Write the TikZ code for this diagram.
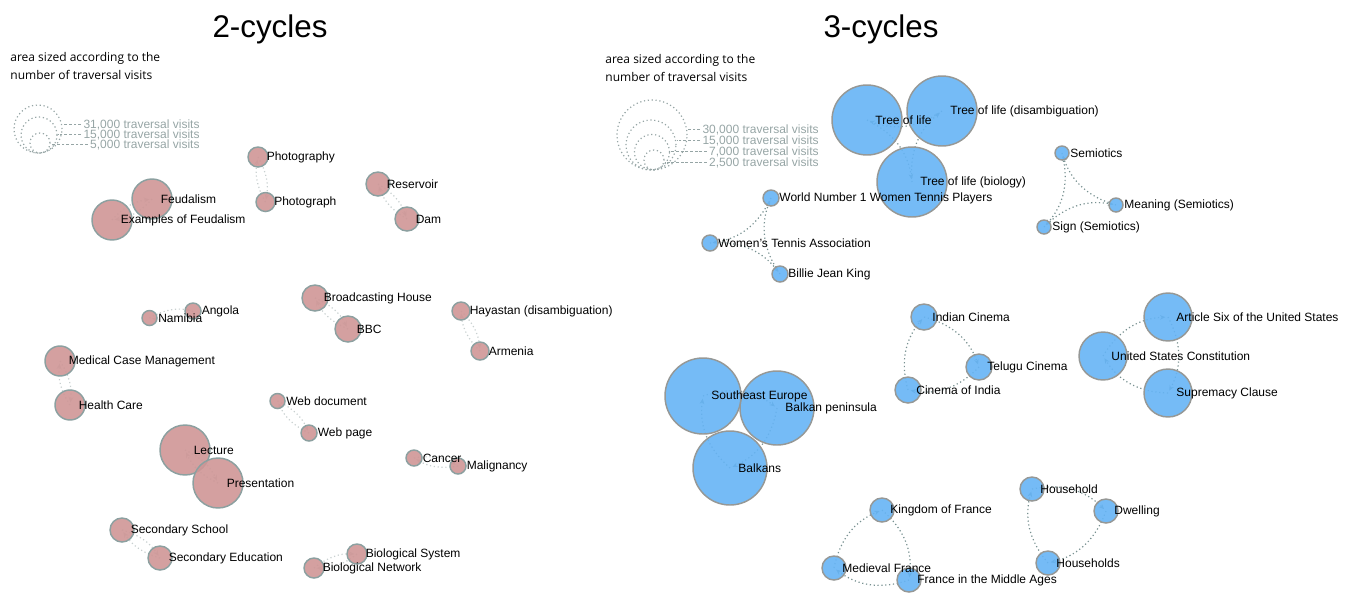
\documentclass[tikz,border=0pt]{standalone}
\usepackage{fontspec}
\setmainfont{Liberation Sans}
\newfontfamily\notefont{Open Sans}
\usepackage{tikz}
\usetikzlibrary{arrows.meta,backgrounds,positioning}
\tikzset{
  >=Stealth,
  every picture/.append style={line width=0.6pt},
  every node/.append style={font=\fontsize{9}{11}\selectfont},
}

\begin{document}
\begin{tikzpicture}[
  x=0.75pt, y=-0.75pt,
  cyc2/.style={circle, draw=pinkrim, fill=pinkfill, fill opacity=0.9, line width=1.1pt, inner sep=0pt, minimum size=#1*1.5pt},
  cyc3/.style={circle, draw=bluerim, fill=bluefill, fill opacity=0.9, line width=1.1pt, inner sep=0pt, minimum size=#1*1.5pt},
  tag/.style={inner sep=0pt, anchor=mid west},
  link2/.style={-{Stealth[length=4pt, width=3.5pt]}, dotted, draw=pinklink, line width=0.9pt, bend left=20, shorten >=2pt},
  link3/.style={-{Stealth[length=4pt, width=3.5pt]}, dotted, draw=bluelink, line width=0.9pt, bend left=28, shorten >=2pt},
  ring/.style={circle, draw=legendgray, dotted, line width=0.9pt, inner sep=0pt, minimum size=#1*1.5pt},
  visits/.style={anchor=mid east, inner sep=1.5pt, text=legendgray},
  tick/.style={draw=legendgray, dash pattern=on 2.2pt off 1.3pt, line width=0.7pt},
  heading/.style={font=\fontsize{23.5}{28}\selectfont, anchor=base, inner sep=0pt},
  note/.style={font=\notefont\fontsize{9}{13.5}\selectfont, align=left, anchor=west, inner sep=0pt}
]
\definecolor{pinkfill}{RGB}{207,150,150}
\definecolor{pinkrim}{RGB}{140,160,160}
\definecolor{pinklink}{RGB}{200,208,208}
\definecolor{bluefill}{RGB}{102,180,245}
\definecolor{bluerim}{RGB}{150,152,150}
\definecolor{bluelink}{RGB}{120,145,145}
\definecolor{legendgray}{RGB}{150,165,165}

\useasboundingbox (0,0) rectangle (1351,593);

% titles and legends
\node[heading] (title2) at (270,37) {2-cycles};
\node[heading] (title3) at (881,37) {3-cycles};

\node[note] (note2) at (10,66) {area sized according to the\\number of traversal visits};
\node[note] (note3) at (605,68) {area sized according to the\\number of traversal visits};

\node[ring=24] (ring31) at (38,129) {};
\node[ring=18] (ring15) at (39,135) {};
\node[ring=10] (ring5) at (40,143) {};
\node[visits] (v31) at (202,124.5) {31,000 traversal visits};
\node[visits] (v15) at (202,134.5) {15,000 traversal visits};
\node[visits] (v5) at (202,144.5) {5,000 traversal visits};
\draw[tick] (v31.west) -- (v31.west -| ring31.east);
\draw[tick] (v15.west) -- (v15.west -| ring15.east);
\draw[tick] (v5.west) -- (v5.west -| ring5.east);

\node[ring=35] (ring30) at (652,135) {};
\node[ring=25] (ring15b) at (651,145) {};
\node[ring=17.5] (ring7) at (652,152) {};
\node[ring=10] (ring25) at (654,160) {};
\node[visits] (v30) at (821,130) {30,000 traversal visits};
\node[visits] (v15b) at (821,141) {15,000 traversal visits};
\node[visits] (v7) at (821,152) {7,000 traversal visits};
\node[visits] (v25) at (821,163) {2,500 traversal visits};
\draw[tick] (v30.west) -- (v30.west -| ring30.east);
\draw[tick] (v15b.west) -- (v15b.west -| ring15b.east);
\draw[tick] (v7.west) -- (v7.west -| ring7.east);
\draw[tick] (v25.west) -- (v25.west -| ring25.east);

% 2-cycles
\node[cyc2=10] (photography) at (258,157) {};
\node[cyc2=9.5] (photograph) at (265.5,202) {};
\node[cyc2=20] (feudalism) at (152,199) {};
\node[cyc2=20] (examples) at (112,220) {};
\node[cyc2=12] (reservoir) at (378,184) {};
\node[cyc2=12] (dam) at (407,219) {};
\node[cyc2=8] (angola) at (193,311) {};
\node[cyc2=7.5] (namibia) at (149.5,318) {};
\node[cyc2=13] (broadcasting) at (315,298) {};
\node[cyc2=13] (bbc) at (348,329) {};
\node[cyc2=9] (hayastan) at (461,311) {};
\node[cyc2=9] (armenia) at (480,351) {};
\node[cyc2=15] (medical) at (60,361) {};
\node[cyc2=15] (health) at (70,405) {};
\node[cyc2=7.5] (webdoc) at (277.5,401) {};
\node[cyc2=8] (webpage) at (309,433) {};
\node[cyc2=25] (lecture) at (185,450) {};
\node[cyc2=25] (presentation) at (218,483) {};
\node[cyc2=8] (cancer) at (414,458) {};
\node[cyc2=8] (malignancy) at (458,466) {};
\node[cyc2=12] (school) at (122,530) {};
\node[cyc2=12] (education) at (160,558) {};
\node[cyc2=10] (biosystem) at (357,554) {};
\node[cyc2=10] (bionetwork) at (314,568) {};

% 3-cycles
\node[cyc3=35] (treedis) at (942,111) {};
\node[cyc3=35] (treebio) at (912,182) {};
\node[cyc3=35] (tree) at (867,120) {};
\node[cyc3=8] (worldno1) at (771,198) {};
\node[cyc3=8] (wta) at (710,243) {};
\node[cyc3=8] (billie) at (780,274) {};
\node[cyc3=7] (semiotics) at (1062,153) {};
\node[cyc3=7] (meaning) at (1116,205) {};
\node[cyc3=7] (sign) at (1044,227) {};
\node[cyc3=13] (indian) at (924,317) {};
\node[cyc3=13] (telugu) at (979,367) {};
\node[cyc3=13] (cinemaindia) at (908,390) {};
\node[cyc3=24] (article) at (1168,317) {};
\node[cyc3=24] (supremacy) at (1168,393) {};
\node[cyc3=24] (usc) at (1103,356) {};
\node[cyc3=37] (balkanpen) at (777,408) {};
\node[cyc3=38] (southeast) at (703,396) {};
\node[cyc3=37] (balkans) at (730,468) {};
\node[cyc3=12] (fma) at (909,580) {};
\node[cyc3=12] (kingdom) at (882,510) {};
\node[cyc3=12] (medieval) at (834,568) {};
\node[cyc3=12] (household) at (1032,489) {};
\node[cyc3=12] (dwelling) at (1106,511) {};
\node[cyc3=12] (households) at (1048,563) {};

% labels, on top of every circle
\node[tag, right=6.3pt of photography.center] (photography-t) {Photography};
\node[tag, right=6.3pt of photograph.center] (photograph-t) {Photograph};
\node[tag, right=6.3pt of feudalism.center] (feudalism-t) {Feudalism};
\node[tag, right=6.3pt of examples.center] (examples-t) {Examples of Feudalism};
\node[tag, right=6.3pt of reservoir.center] (reservoir-t) {Reservoir};
\node[tag, right=6.3pt of dam.center] (dam-t) {Dam};
\node[tag, right=6.3pt of angola.center] (angola-t) {Angola};
\node[tag, right=6.3pt of namibia.center] (namibia-t) {Namibia};
\node[tag, right=6.3pt of broadcasting.center] (broadcasting-t) {Broadcasting House};
\node[tag, right=6.3pt of bbc.center] (bbc-t) {BBC};
\node[tag, right=6.3pt of hayastan.center] (hayastan-t) {Hayastan (disambiguation)};
\node[tag, right=6.3pt of armenia.center] (armenia-t) {Armenia};
\node[tag, right=6.3pt of medical.center] (medical-t) {Medical Case Management};
\node[tag, right=6.3pt of health.center] (health-t) {Health Care};
\node[tag, right=6.3pt of webdoc.center] (webdoc-t) {Web document};
\node[tag, right=6.3pt of webpage.center] (webpage-t) {Web page};
\node[tag, right=6.3pt of lecture.center] (lecture-t) {Lecture};
\node[tag, right=6.3pt of presentation.center] (presentation-t) {Presentation};
\node[tag, right=6.3pt of cancer.center] (cancer-t) {Cancer};
\node[tag, right=6.3pt of malignancy.center] (malignancy-t) {Malignancy};
\node[tag, right=6.3pt of school.center] (school-t) {Secondary School};
\node[tag, right=6.3pt of education.center] (education-t) {Secondary Education};
\node[tag, right=6.3pt of biosystem.center] (biosystem-t) {Biological System};
\node[tag, right=6.3pt of bionetwork.center] (bionetwork-t) {Biological Network};

\node[tag, right=6pt of treedis.center] (treedis-t) {Tree of life (disambiguation)};
\node[tag, right=6pt of treebio.center] (treebio-t) {Tree of life (biology)};
\node[tag, right=6pt of tree.center] (tree-t) {Tree of life};
\node[tag, right=6pt of worldno1.center] (worldno1-t) {World Number 1 Women Tennis Players};
\node[tag, right=6pt of wta.center] (wta-t) {Women's Tennis Association};
\node[tag, right=6pt of billie.center] (billie-t) {Billie Jean King};
\node[tag, right=6pt of semiotics.center] (semiotics-t) {Semiotics};
\node[tag, right=6pt of meaning.center] (meaning-t) {Meaning (Semiotics)};
\node[tag, right=6pt of sign.center] (sign-t) {Sign (Semiotics)};
\node[tag, right=6pt of indian.center] (indian-t) {Indian Cinema};
\node[tag, right=6pt of telugu.center] (telugu-t) {Telugu Cinema};
\node[tag, right=6pt of cinemaindia.center] (cinemaindia-t) {Cinema of India};
\node[tag, right=6pt of article.center] (article-t) {Article Six of the United States};
\node[tag, right=6pt of supremacy.center] (supremacy-t) {Supremacy Clause};
\node[tag, right=6pt of usc.center] (usc-t) {United States Constitution};
\node[tag, right=6pt of balkanpen.center] (balkanpen-t) {Balkan peninsula};
\node[tag, right=6pt of southeast.center] (southeast-t) {Southeast Europe};
\node[tag, right=6pt of balkans.center] (balkans-t) {Balkans};
\node[tag, right=6pt of fma.center] (fma-t) {France in the Middle Ages};
\node[tag, right=6pt of kingdom.center] (kingdom-t) {Kingdom of France};
\node[tag, right=6pt of medieval.center] (medieval-t) {Medieval France};
\node[tag, right=6pt of household.center] (household-t) {Household};
\node[tag, right=6pt of dwelling.center] (dwelling-t) {Dwelling};
\node[tag, right=6pt of households.center] (households-t) {Households};

\begin{scope}[on background layer]
% 2-cycle links
\draw[link2] (photography.center) to (photograph.center);
\draw[link2] (photograph.center) to (photography.center);
\draw[link2] (feudalism.center) to (examples.center);
\draw[link2] (examples.center) to (feudalism.center);
\draw[link2] (reservoir.center) to (dam.center);
\draw[link2] (dam.center) to (reservoir.center);
\draw[link2] (angola.center) to (namibia.center);
\draw[link2] (namibia.center) to (angola.center);
\draw[link2] (broadcasting.center) to (bbc.center);
\draw[link2] (bbc.center) to (broadcasting.center);
\draw[link2] (hayastan.center) to (armenia.center);
\draw[link2] (armenia.center) to (hayastan.center);
\draw[link2] (medical.center) to (health.center);
\draw[link2] (health.center) to (medical.center);
\draw[link2] (webdoc.center) to (webpage.center);
\draw[link2] (webpage.center) to (webdoc.center);
\draw[link2] (lecture.center) to (presentation.center);
\draw[link2] (presentation.center) to (lecture.center);
\draw[link2] (cancer.center) to (malignancy.center);
\draw[link2] (malignancy.center) to (cancer.center);
\draw[link2] (school.center) to (education.center);
\draw[link2] (education.center) to (school.center);
\draw[link2] (biosystem.center) to (bionetwork.center);
\draw[link2] (bionetwork.center) to (biosystem.center);

% 3-cycle links
\draw[link3] (tree.center) to (treebio.center);
\draw[link3] (treebio.center) to (treedis.center);
\draw[link3] (treedis.center) to (tree.center);
\draw[link3] (worldno1.center) to (wta.center);
\draw[link3] (wta.center) to (billie.center);
\draw[link3] (billie.center) to (worldno1.center);
\draw[link3] (semiotics.center) to (sign.center);
\draw[link3] (sign.center) to (meaning.center);
\draw[link3] (meaning.center) to (semiotics.center);
\draw[link3] (cinemaindia.center) to (indian.center);
\draw[link3] (indian.center) to (telugu.center);
\draw[link3] (telugu.center) to (cinemaindia.center);
\draw[link3] (usc.center) to (article.center);
\draw[link3] (article.center) to (supremacy.center);
\draw[link3] (supremacy.center) to (usc.center);
\draw[link3] (southeast.center) to (balkanpen.center);
\draw[link3] (balkanpen.center) to (balkans.center);
\draw[link3] (balkans.center) to (southeast.center);
\draw[link3] (medieval.center) to (kingdom.center);
\draw[link3] (kingdom.center) to (fma.center);
\draw[link3] (fma.center) to (medieval.center);
\draw[link3] (households.center) to (household.center);
\draw[link3] (household.center) to (dwelling.center);
\draw[link3] (dwelling.center) to (households.center);
\end{scope}
\end{tikzpicture}
\end{document}
